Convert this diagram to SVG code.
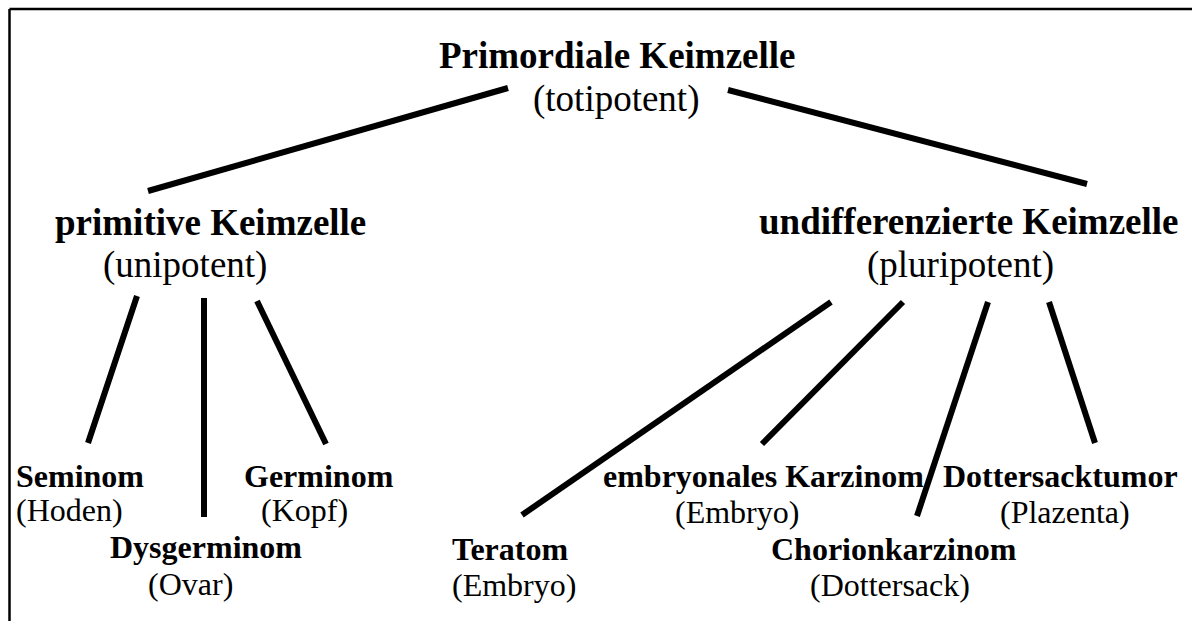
<svg xmlns="http://www.w3.org/2000/svg" width="1192" height="621" viewBox="0 0 1192 621">
<style>
.b{font-family:"Liberation Serif","Times New Roman",serif;font-weight:bold;fill:#000}
.r{font-family:"Liberation Serif","Times New Roman",serif;fill:#000}
.l1{font-size:37px}
.l3{font-size:32px}
.c line{stroke:#000;stroke-width:6}
.frame line{stroke:#000;stroke-width:2.5}
</style>
<rect width="1192" height="621" fill="#fff"/>
<g class="frame">
<line x1="9.5" y1="9" x2="1192" y2="9"/>
<line x1="9.5" y1="9" x2="9.5" y2="621"/>
</g>
<g class="c" id="connectors">
<line x1="508" y1="88" x2="148" y2="191"/>
<line x1="728" y1="90" x2="1087" y2="184"/>
<line x1="137" y1="296" x2="88" y2="443"/>
<line x1="204" y1="298" x2="204" y2="517"/>
<line x1="257" y1="301" x2="326" y2="444"/>
<line x1="831" y1="302" x2="522" y2="515"/>
<line x1="903" y1="302" x2="762" y2="444"/>
<line x1="988" y1="302" x2="917" y2="516"/>
<line x1="1049" y1="302" x2="1095" y2="443"/>
</g>
<g id="primordiale">
<text class="b l1" x="439" y="68">Primordiale Keimzelle</text>
<text class="r l1" x="533" y="111">(totipotent)</text>
</g>
<g id="primitive">
<text class="b l1" x="55" y="235">primitive Keimzelle</text>
<text class="r l1" x="103" y="277">(unipotent)</text>
</g>
<g id="undifferenzierte">
<text class="b l1" x="759" y="234">undifferenzierte Keimzelle</text>
<text class="r l1" x="867" y="277">(pluripotent)</text>
</g>
<g id="seminom">
<text class="b l3" x="16" y="487">Seminom</text>
<text class="r l3" x="16" y="521">(Hoden)</text>
</g>
<g id="germinom">
<text class="b l3" x="244" y="487">Germinom</text>
<text class="r l3" x="261" y="521">(Kopf)</text>
</g>
<g id="dysgerminom">
<text class="b l3" x="110" y="558">Dysgerminom</text>
<text class="r l3" x="148" y="595">(Ovar)</text>
</g>
<g id="teratom">
<text class="b l3" x="452" y="560">Teratom</text>
<text class="r l3" x="452" y="596">(Embryo)</text>
</g>
<g id="embryonales">
<text class="b l3" x="603" y="487">embryonales Karzinom</text>
<text class="r l3" x="675" y="523">(Embryo)</text>
</g>
<g id="dottersacktumor">
<text class="b l3" x="943" y="487">Dottersacktumor</text>
<text class="r l3" x="1000" y="523">(Plazenta)</text>
</g>
<g id="chorionkarzinom">
<text class="b l3" x="771" y="560">Chorionkarzinom</text>
<text class="r l3" x="810" y="596">(Dottersack)</text>
</g>
</svg>
